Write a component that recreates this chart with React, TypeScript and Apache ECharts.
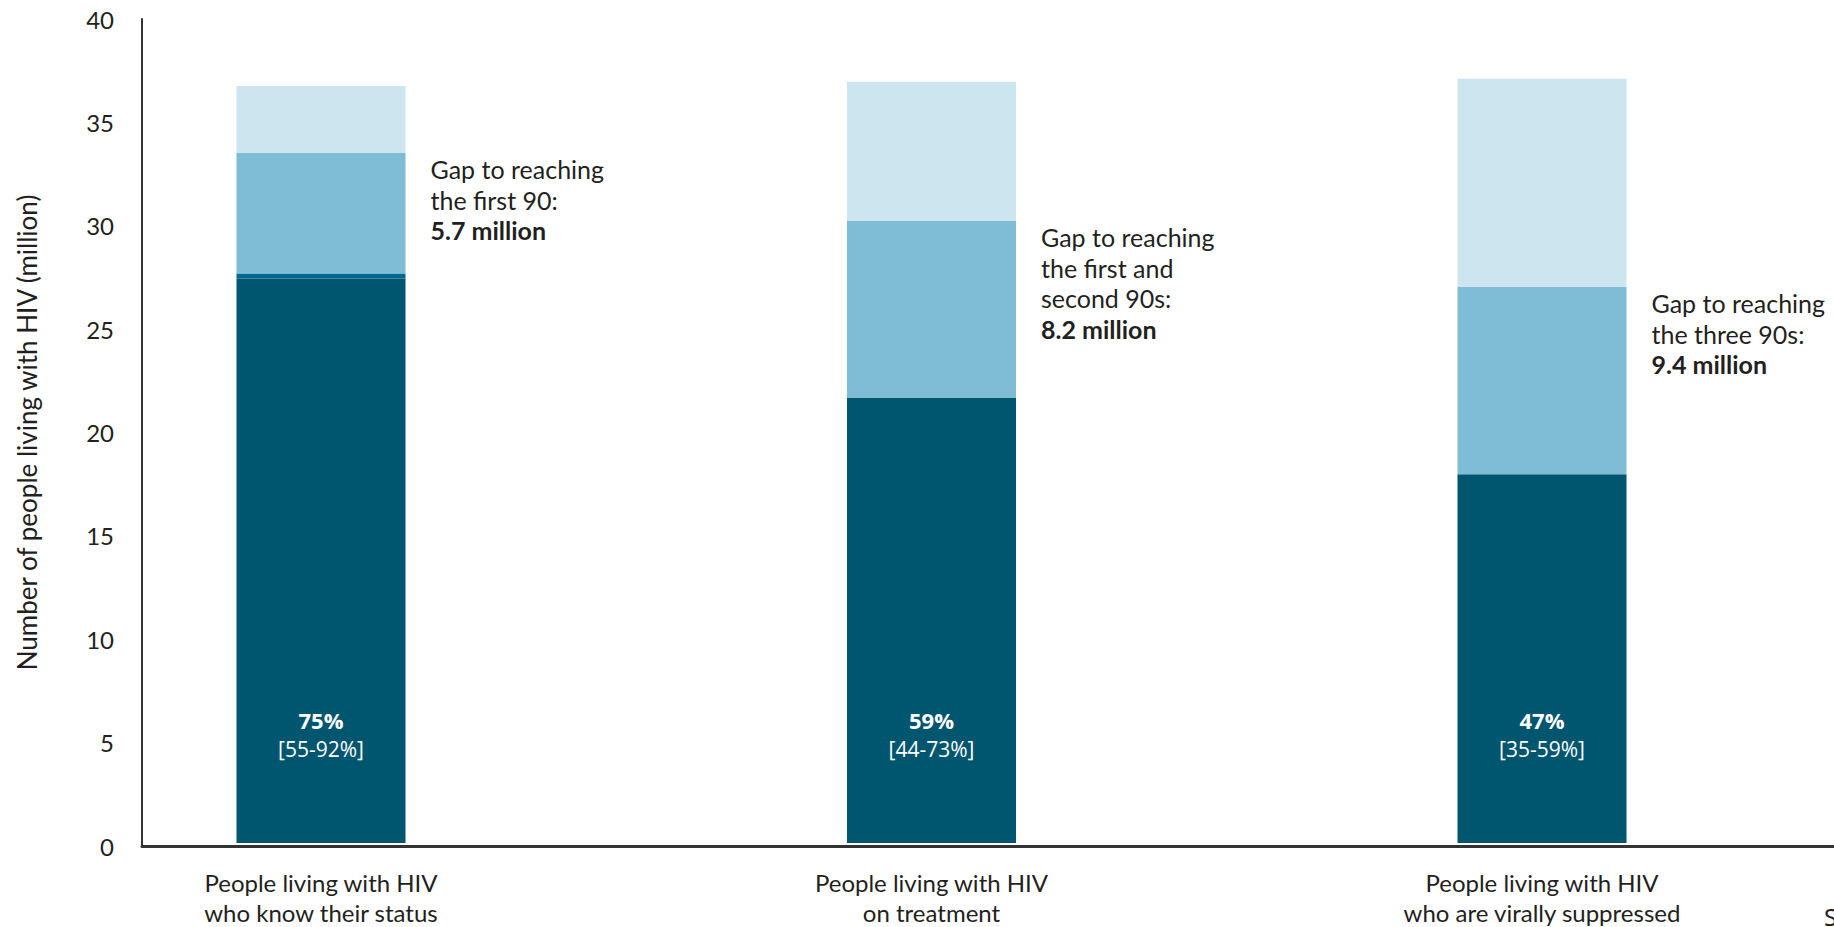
import React, { useEffect, useRef } from "react";
import * as echarts from "echarts";

const categories = [
  "People living with HIV\nwho know their status",
  "People living with HIV\non treatment",
  "People living with HIV\nwho are virally suppressed",
];
// million people, stacked segments
const achieved = [27.4, 21.6, 17.9];
const edgeStrip = [0.25, 0, 0];
const gapSegment = [5.85, 8.6, 9.1];
const remainder = [3.25, 6.75, 10.1];

const pctLabels = ["75%", "59%", "47%"];
const pctRanges = ["[55-92%]", "[44-73%]", "[35-59%]"];
const gapLines = [
  ["Gap to reaching", "the first 90:"],
  ["Gap to reaching", "the first and", "second 90s:"],
  ["Gap to reaching", "the three 90s:"],
];
const gapValues = ["5.7 million", "8.2 million", "9.4 million"];

const yTicks = { min: 0, max: 40, interval: 5 };

const DARK = "#00556f";
const MID = "#7fbcd6";
const LIGHT = "#cde5ef";
const STRIP = "#00688c";
const TEXT = "#231f20";
const FONT = "Lato, 'Noto Sans', sans-serif";

export default function App() {
  const ref = useRef<HTMLDivElement>(null);
  useEffect(() => {
    document.body.style.margin = "0";
    if (!ref.current) return;
    const chart = echarts.init(ref.current, null, { renderer: "svg" });
    const option: any = {
      animation: false,
      backgroundColor: "#ffffff",
      grid: [
        { left: 142, right: 0, top: 19, bottom: 81 },
        { left: 321, right: 292, top: 19, bottom: 81 },
      ],
      xAxis: [
        {
          gridIndex: 0,
          type: "value",
          min: 0,
          max: 1,
          axisLine: { show: true, lineStyle: { color: "#333333", width: 3 } },
          axisTick: { show: false },
          axisLabel: { show: false },
          splitLine: { show: false },
        },
        {
          gridIndex: 1,
          type: "category",
          data: categories,
          boundaryGap: false,
          axisLine: { show: false },
          axisTick: { show: false },
          axisLabel: {
            interval: 0,
            margin: 24,
            fontSize: 24,
            lineHeight: 30,
            color: TEXT,
            fontFamily: FONT,
          },
        },
      ],
      yAxis: [
        {
          gridIndex: 0,
          type: "value",
          min: yTicks.min,
          max: yTicks.max,
          interval: yTicks.interval,
          axisLine: { show: true, lineStyle: { color: "#333333", width: 2 } },
          axisTick: { show: false },
          splitLine: { show: false },
          axisLabel: {
            margin: 28,
            fontSize: 24,
            color: TEXT,
            fontFamily: FONT,
          },
          name: "Number of people living with HIV (million)",
          nameLocation: "middle",
          nameGap: 102,
          nameTextStyle: { fontSize: 26, color: TEXT, fontFamily: FONT },
        },
        {
          gridIndex: 1,
          type: "value",
          min: yTicks.min,
          max: yTicks.max,
          interval: yTicks.interval,
          show: false,
        },
      ],
      series: [
        {
          type: "bar",
          xAxisIndex: 1,
          yAxisIndex: 1,
          stack: "total",
          barWidth: 169,
          clip: false,
          data: achieved,
          itemStyle: { color: DARK },
          label: {
            show: true,
            position: "insideBottom",
            distance: 80,
            formatter: (p: any) =>
              `{p|${pctLabels[p.dataIndex]}}\n{r|${pctRanges[p.dataIndex]}}`,
            rich: {
              p: {
                fontSize: 22,
                fontWeight: "bold",
                color: "#ffffff",
                lineHeight: 29,
                fontFamily: "'Open Sans', 'Noto Sans', sans-serif",
              },
              r: {
                fontSize: 21,
                color: "#ffffff",
                lineHeight: 29,
                fontFamily: "'Open Sans', 'Noto Sans', sans-serif",
              },
            },
          },
        },
        {
          type: "bar",
          xAxisIndex: 1,
          yAxisIndex: 1,
          stack: "total",
          barWidth: 169,
          clip: false,
          data: edgeStrip,
          itemStyle: { color: STRIP },
        },
        {
          type: "bar",
          xAxisIndex: 1,
          yAxisIndex: 1,
          stack: "total",
          barWidth: 169,
          clip: false,
          data: gapSegment,
          itemStyle: { color: MID },
          label: {
            show: true,
            position: [194, 1],
            align: "left",
            verticalAlign: "top",
            formatter: (p: any) =>
              gapLines[p.dataIndex].map((l) => `{a|${l}}`).join("\n") +
              `\n{b|${gapValues[p.dataIndex]}}`,
            rich: {
              a: { fontSize: 25, color: TEXT, lineHeight: 30.5, fontFamily: FONT },
              b: {
                fontSize: 25,
                fontWeight: "bold",
                color: TEXT,
                lineHeight: 30.5,
                fontFamily: FONT,
              },
            },
          },
        },
        {
          type: "bar",
          xAxisIndex: 1,
          yAxisIndex: 1,
          stack: "total",
          barWidth: 169,
          clip: false,
          data: remainder,
          itemStyle: { color: LIGHT },
        },
      ],
      graphic: [
        {
          type: "text",
          left: 1824,
          top: 904,
          style: {
            text: "Source:",
            fontSize: 24,
            fill: TEXT,
            fontFamily: "'Noto Sans', sans-serif",
          },
        },
      ],
    };
    chart.setOption(option);
    return () => chart.dispose();
  }, []);
  return (
    <div
      ref={ref}
      style={{ width: 1834, height: 927, overflow: "hidden" }}
    />
  );
}
